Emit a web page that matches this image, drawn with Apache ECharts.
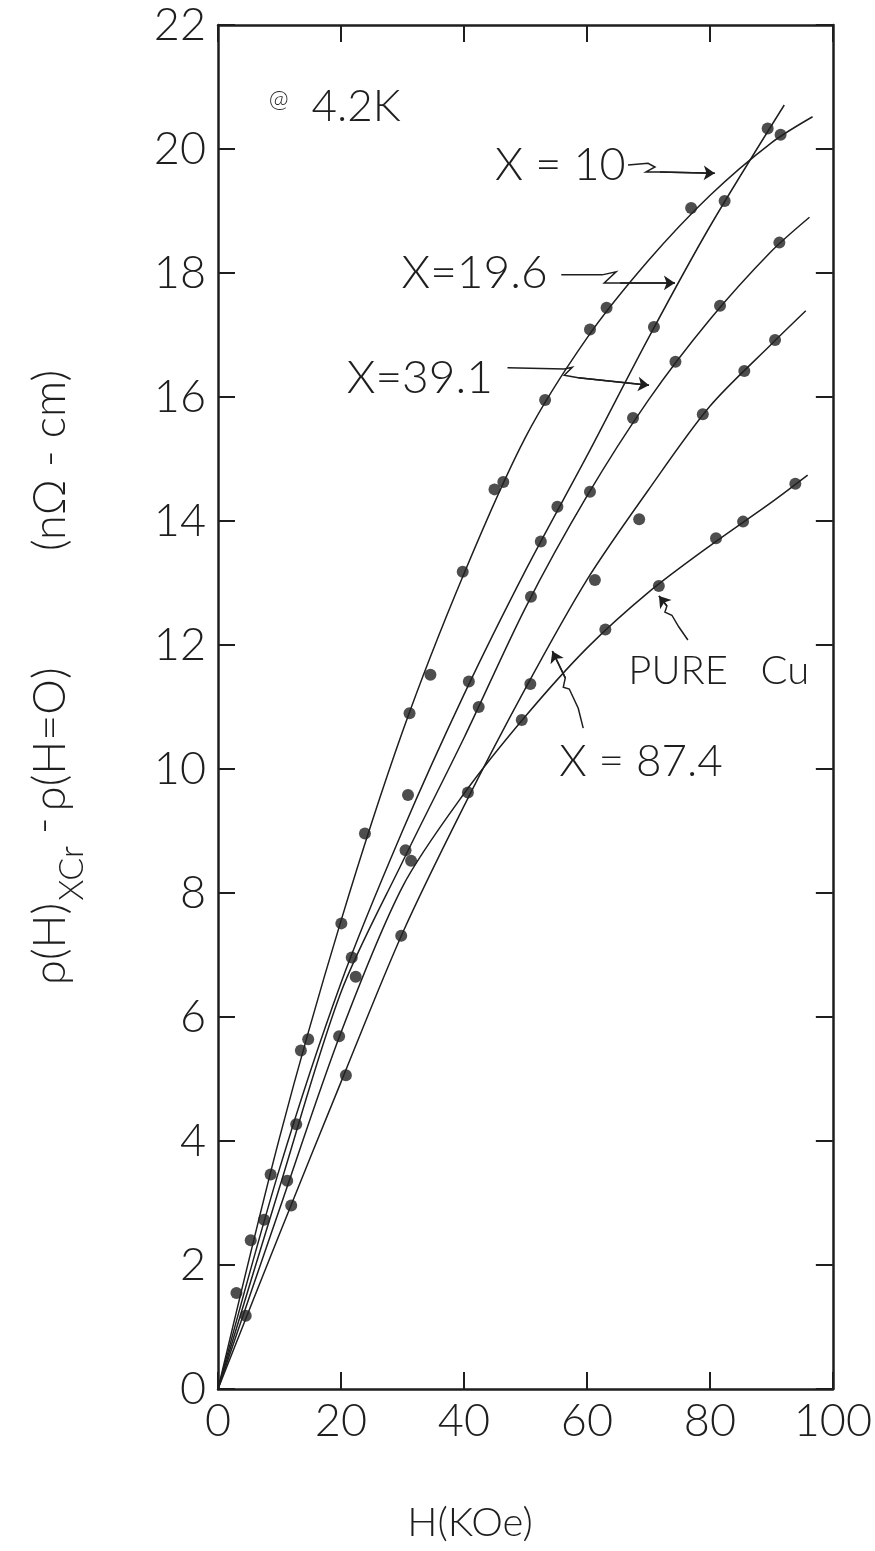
<!DOCTYPE html>
<html>
<head>
<meta charset="utf-8">
<script src="https://cdn.jsdelivr.net/npm/echarts@6/dist/echarts.min.js"></script>
<style>
html,body{margin:0;padding:0;background:#fff;}
#c{width:875px;height:1551px;}
</style>
</head>
<body>
<div id="c"></div>
<script>
// ---------- tick labels ----------
const xTickValues = [0, 20, 40, 60, 80, 100];
const xTickLabels = ['0', '20', '40', '60', '80', '100'];
const yTickValues = [0, 2, 4, 6, 8, 10, 12, 14, 16, 18, 20, 22];
const yTickLabels = ['0', '2', '4', '6', '8', '10', '12', '14', '16', '18', '20', '22'];

// ---------- measured points [H (kOe), rho (nOhm-cm)] ----------
const ptsX10 = [[3.0,1.55],[8.56,3.46],[13.48,5.46],[14.67,5.64],[20.06,7.51],[23.9,8.96],[31.15,10.9],[34.55,11.52],[39.8,13.18],[44.97,14.51],[46.4,14.63],[53.2,15.95],[60.5,17.09],[63.2,17.44],[76.95,19.05],[91.5,20.23]];
const ptsX196 = [[5.32,2.40],[12.72,4.27],[21.75,6.96],[30.9,9.58],[40.8,11.41],[52.5,13.67],[55.2,14.23],[70.9,17.13],[82.4,19.16],[89.4,20.33]];
const ptsX391 = [[7.49,2.73],[11.26,3.36],[22.4,6.65],[30.5,8.69],[42.4,11.0],[50.9,12.78],[60.5,14.47],[67.5,15.66],[74.4,16.57],[81.65,17.47],[91.3,18.49]];
const ptsX874 = [[4.51,1.18],[11.91,2.96],[20.8,5.06],[29.8,7.31],[50.8,11.37],[61.3,13.05],[68.5,14.03],[78.85,15.72],[85.6,16.42],[90.6,16.92]];
const ptsCu = [[19.7,5.69],[31.4,8.52],[40.65,9.62],[49.4,10.79],[63.0,12.25],[71.7,12.95],[81.0,13.72],[85.4,13.99],[93.9,14.6]];

// ---------- drawn smooth curves ----------
const curveX10 = [[0,0],[10,4.05],[20,7.55],[30,10.6],[40,13.15],[50,15.35],[60,16.95],[70,18.2],[80,19.25],[90,20.1],[96.7,20.52]];
const curveX196 = [[0,0],[10,3.55],[20,6.55],[30,9.0],[40,11.2],[50,13.2],[60,15.05],[70,16.95],[80,18.75],[92.1,20.71]];
const curveX391 = [[0,0],[10,3.25],[20,6.4],[30,8.5],[40,10.5],[50,12.6],[60,14.4],[70,15.95],[80,17.25],[90,18.35],[96.2,18.9]];
const curveX874 = [[0,0],[10,2.5],[20,4.95],[30,7.35],[40,9.4],[50,11.3],[60,13.05],[70,14.5],[80,15.85],[90,16.85],[95.6,17.39]];
const curveCu = [[0,0],[10,2.9],[20,5.75],[30,8.1],[40,9.6],[50,10.85],[60,11.95],[70,12.85],[80,13.6],[90,14.3],[95.9,14.74]];

const seriesNames = ['X=10', 'X=19.6', 'X=39.1', 'X=87.4', 'PURE Cu'];

// ---------- annotation texts and leader arrows (in data coordinates) ----------
const labelTexts = ['X = 10', 'X=19.6', 'X=39.1', 'X = 87.4', 'PURE   Cu'];
const labelAnchors = [[55.67,19.73],[41.73,18.0],[32.82,16.31],[68.8,10.11],[81.44,11.58]];
const leaderPaths = [
  [[66.69,19.74],[69.94,19.77],[71.07,19.71],[69.61,19.63],[71.88,19.63],[80.79,19.61]],
  [[55.83,17.97],[62.48,17.97],[64.75,18.02],[62.81,17.84],[65.4,17.84],[74.31,17.84]],
  [[47.08,16.47],[56.32,16.45],[57.62,16.48],[56.32,16.35],[58.59,16.31],[70.1,16.19]],
  [[59.4,10.66],[58.59,10.98],[57.13,11.29],[56.16,11.32],[56.48,11.47],[54.38,11.9]],
  [[76.42,12.08],[74.96,12.29],[73.82,12.48],[72.69,12.53],[73.01,12.63],[71.72,12.79]]
];

const FONT = 'Lato, "DejaVu Sans", "Noto Sans", sans-serif';
const INK = '#1e1e1e';
const WEIGHT = 300;

const chart = echarts.init(document.getElementById('c'), null, {renderer: 'canvas', width: 875, height: 1551});

function lineSeries(name, data) {
  return {name: name, type: 'line', data: data, smooth: 0.3,
    showSymbol: false, symbol: 'none', silent: true, z: 2,
    lineStyle: {color: INK, width: 1.5}};
}
function scatterSeries(name, data) {
  return {name: name, type: 'scatter', data: data, symbol: 'circle', symbolSize: 12,
    itemStyle: {color: '#222'}, z: 3};
}

const axisLineStyle = {color: INK, width: 2.5};
const tickStyle = {color: INK, width: 2};

function xAxisCfg(pos, showLabel) {
  return {type: 'value', min: 0, max: 100, interval: 20, position: pos,
    axisLine: {show: true, onZero: false, lineStyle: axisLineStyle},
    axisTick: {show: true, inside: true, length: 17, lineStyle: tickStyle},
    axisLabel: {show: showLabel, margin: 10, fontSize: 45, fontWeight: WEIGHT, fontFamily: FONT, color: INK,
      formatter: v => xTickLabels[xTickValues.indexOf(v)]},
    splitLine: {show: false}};
}
function yAxisCfg(pos, showLabel) {
  return {type: 'value', min: 0, max: 22, interval: 2, position: pos,
    axisLine: {show: true, onZero: false, lineStyle: axisLineStyle},
    axisTick: {show: true, inside: true, length: 17, lineStyle: tickStyle},
    axisLabel: {show: showLabel, margin: 12, fontSize: 45, fontWeight: WEIGHT, fontFamily: FONT, color: INK,
      formatter: v => yTickLabels[yTickValues.indexOf(v)]},
    splitLine: {show: false}};
}

const curves = [curveX10, curveX196, curveX391, curveX874, curveCu];
const points = [ptsX10, ptsX196, ptsX391, ptsX874, ptsCu];

const series = [];
curves.forEach((c, i) => series.push(lineSeries(seriesNames[i] + ' curve', c)));
points.forEach((p, i) => series.push(scatterSeries(seriesNames[i], p)));
series.push({
  type: 'lines', coordinateSystem: 'cartesian2d', polyline: true, silent: true, z: 4,
  lineStyle: {color: INK, width: 1.5, opacity: 1},
  data: leaderPaths.map(p => ({coords: p}))
});
series.push({
  type: 'lines', coordinateSystem: 'cartesian2d', silent: true, z: 4,
  symbol: ['none', 'arrow'], symbolSize: 11,
  lineStyle: {color: INK, width: 1.5, opacity: 1, curveness: 0},
  data: leaderPaths.map(p => ({coords: [p[p.length - 2], p[p.length - 1]]}))
});

chart.setOption({
  animation: false,
  backgroundColor: '#ffffff',
  grid: {left: 218, top: 25, right: 39, bottom: 162, containLabel: false},
  xAxis: [xAxisCfg('bottom', true), xAxisCfg('top', false)],
  yAxis: [yAxisCfg('left', true), yAxisCfg('right', false)],
  series: series
});

// ---------- texts placed with the chart's own scales ----------
function px(pt) { return chart.convertToPixel({xAxisIndex: 0, yAxisIndex: 0}, pt); }
const mctx = document.createElement('canvas').getContext('2d');
function measure(t, size) { mctx.font = WEIGHT + ' ' + size + 'px ' + FONT; return mctx.measureText(t).width; }
function txt(t, x, y, size, align, rot) {
  const o = {type: 'text', x: x, y: y, silent: true, z: 10,
    style: {text: t, fontSize: size, fontWeight: WEIGHT, fontFamily: FONT, fill: INK,
      align: align, verticalAlign: 'middle', textAlign: align, textVerticalAlign: 'middle'}};
  if (rot) o.rotation = rot;
  return o;
}

const graphics = [];
const labelSizes = [45, 46, 46, 44, 40];
labelTexts.forEach((t, i) => {
  const p = px(labelAnchors[i]);
  graphics.push(txt(t, p[0], p[1], labelSizes[i], 'center'));
});
// temperature note
const tAnchor = px([22.45, 20.68]);
graphics.push(txt('4.2K', tAnchor[0], tAnchor[1], 44, 'center'));
const aAnchor = px([9.89, 20.8]);
graphics.push(txt('@', aAnchor[0], aAnchor[1], 24, 'center'));

// x axis title
graphics.push(txt('H(KOe)', 470, 1523, 40, 'center'));

// y axis title (rotated, with subscript), pieces laid bottom-to-top
const tm = 45, ts = 34, R = Math.PI / 2, cx = 50;
const a1 = '\u03C1(H)', a2 = 'XCr', a3 = '-', a4 = '\u03C1(H=O)', a5 = '(n\u03A9 - cm)';
let y = 985;
graphics.push(txt(a1, cx, y, tm, 'left', R)); y -= measure(a1, tm) + 2;
graphics.push(txt(a2, cx + 22, y, ts, 'left', R)); y -= measure(a2, ts) + 12;
graphics.push(txt(a3, cx - 6, y, tm, 'left', R)); y -= measure(a3, tm) + 6;
graphics.push(txt(a4, cx, y, tm, 'left', R));
graphics.push(txt(a5, cx, 370 + measure(a5, tm), tm, 'left', R));

chart.setOption({graphic: graphics});
</script>
</body>
</html>
